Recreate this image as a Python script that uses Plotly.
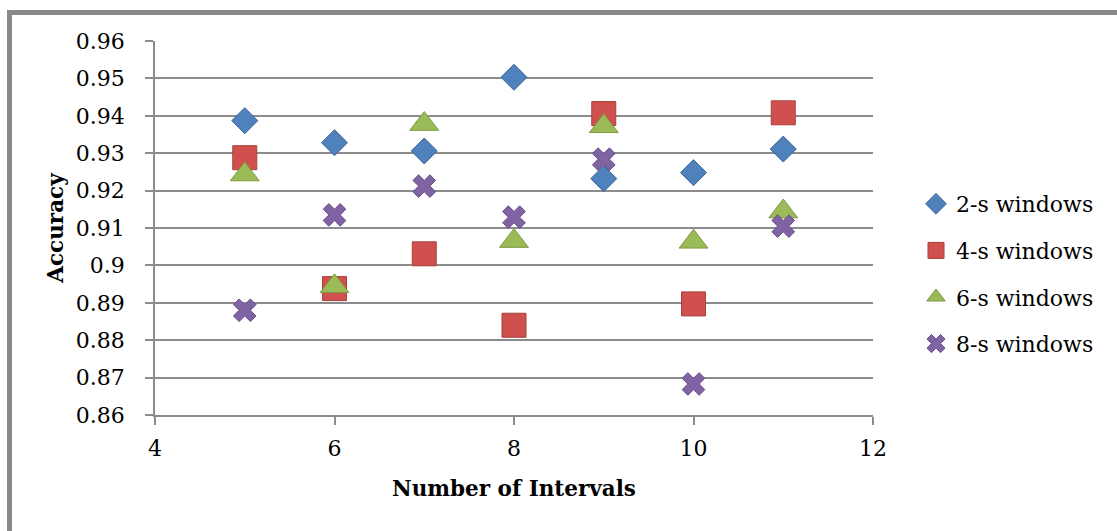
import plotly.graph_objects as go

# Accuracy per number of intervals for each window length
intervals = [5, 6, 7, 8, 9, 10, 11]
acc_2s = [0.9387, 0.9328, 0.9306, 0.9503, 0.9232, 0.9248, 0.9311]
acc_4s = [0.9288, 0.8938, 0.9031, 0.8840, 0.9406, 0.8897, 0.9408]
acc_6s = [0.9243, 0.8944, 0.9378, 0.9065, 0.9372, 0.9063, 0.9144]
acc_8s = [0.8880, 0.9135, 0.9212, 0.9129, 0.9284, 0.8683, 0.9105]

series_names = ["2-s windows", "4-s windows", "6-s windows", "8-s windows"]
y_tick_vals = [0.86, 0.87, 0.88, 0.89, 0.90, 0.91, 0.92, 0.93, 0.94, 0.95, 0.96]
y_tick_text = ["0.86", "0.87", "0.88", "0.89", "0.9", "0.91", "0.92", "0.93", "0.94", "0.95", "0.96"]
x_tick_vals = [4, 6, 8, 10, 12]

W, H = 1117, 531
ML, MR, MT, MB = 155, W - 873, 41, H - 415

FONT = "DejaVu Serif"
GRID = "#8c8c8c"

styles = [
    dict(symbol="diamond", size=20, color="#4f81bd", line=dict(color="#3c6596", width=1)),
    dict(symbol="square", size=24, color="#cf504c", line=dict(color="#a8403c", width=1)),
    dict(symbol="triangle-up", size=25, color="#9bbb59", line=dict(color="#7b9a3e", width=1)),
    dict(symbol="x", size=20, color="#7f63a2", line=dict(color="#654c85", width=1)),
]

fig = go.Figure()
for name, vals, st in zip(series_names, [acc_2s, acc_4s, acc_6s, acc_8s], styles):
    fig.add_trace(go.Scatter(
        x=intervals, y=vals, mode="markers", name=name, legendgroup=name,
        marker=st,
    ))

# outer chart frame (top and left edges visible)
px = lambda v: (v - ML) / (W - ML - MR)
py = lambda v: (H - MB - v) / (H - MT - MB)
fig.add_shape(
    type="path", xref="paper", yref="paper",
    path=f"M {px(9.5)} {py(560)} L {px(9.5)} {py(12.5)} L {px(1130)} {py(12.5)}",
    line=dict(color="#898989", width=5),
)

fig.update_layout(
    width=W, height=H,
    margin=dict(l=ML, r=MR, t=MT, b=MB, pad=0),
    paper_bgcolor="white", plot_bgcolor="white",
    font=dict(family=FONT, size=22, color="black"),
    legend=dict(
        x=px(916), y=py(274), xanchor="left", yanchor="middle",
        font=dict(family=FONT, size=22, color="black"),
        tracegroupgap=15, bgcolor="rgba(0,0,0,0)",
    ),
    xaxis=dict(
        range=[4, 12], tickvals=x_tick_vals, showgrid=False, zeroline=False,
        showline=True, linecolor=GRID, linewidth=1.5,
        ticks="outside", ticklen=8, tickcolor=GRID, tickwidth=1.5,
        tickfont=dict(family=FONT, size=22), ticklabelstandoff=5,
        title=dict(text="<b>Number of Intervals</b>", font=dict(family=FONT, size=21.5), standoff=21),
    ),
    yaxis=dict(
        range=[0.86, 0.96], tickvals=y_tick_vals, ticktext=y_tick_text,
        showgrid=True, gridcolor=GRID, gridwidth=1.5, zeroline=False,
        showline=True, linecolor=GRID, linewidth=1.5,
        ticks="outside", ticklen=8, tickcolor=GRID, tickwidth=1.5,
        tickfont=dict(family=FONT, size=22), ticklabelstandoff=16,
        title=dict(text="<b>Accuracy</b>", font=dict(family=FONT, size=21.5), standoff=6),
    ),
)

fig.write_html("out.html")
